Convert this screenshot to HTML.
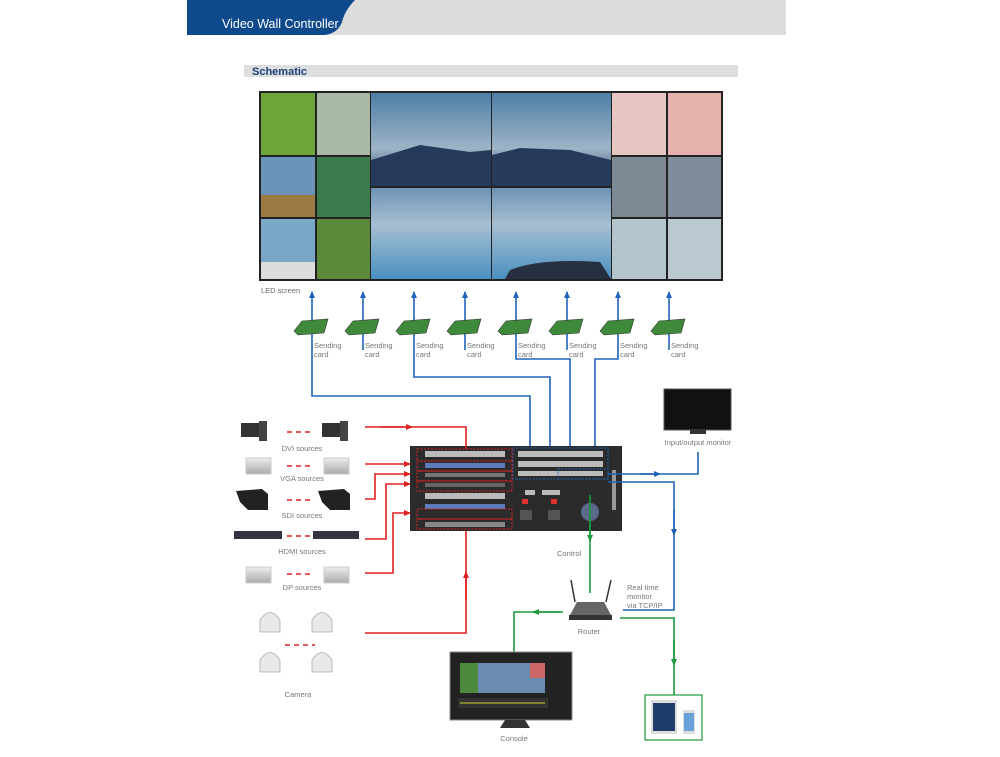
<!DOCTYPE html>
<html><head><meta charset="utf-8"><style>
body{margin:0;background:#fff;}
svg{display:block;font-family:"Liberation Sans",sans-serif;}
</style></head><body>
<svg width="1000" height="757" viewBox="0 0 1000 757" xmlns="http://www.w3.org/2000/svg">
<defs>
<marker id="ar" markerWidth="8" markerHeight="8" refX="6" refY="4" orient="auto" markerUnits="userSpaceOnUse"><path d="M0,1 L7,4 L0,7z" fill="#e02020"/></marker>
<marker id="ab" markerWidth="8" markerHeight="8" refX="6" refY="4" orient="auto" markerUnits="userSpaceOnUse"><path d="M0,1 L7,4 L0,7z" fill="#1f63b8"/></marker>
<marker id="ag" markerWidth="8" markerHeight="8" refX="6" refY="4" orient="auto" markerUnits="userSpaceOnUse"><path d="M0,1 L7,4 L0,7z" fill="#1a9a3a"/></marker>
<linearGradient id="sky" x1="0" y1="0" x2="0" y2="1"><stop offset="0" stop-color="#4f7fa8"/><stop offset=".6" stop-color="#9db4c6"/><stop offset="1" stop-color="#2b3e66"/></linearGradient>
<linearGradient id="lake" x1="0" y1="0" x2="0" y2="1"><stop offset="0" stop-color="#6f93b5"/><stop offset=".4" stop-color="#a7bfd2"/><stop offset="1" stop-color="#4a90c0"/></linearGradient>
<linearGradient id="gr" x1="0" y1="0" x2="0" y2="1"><stop offset="0" stop-color="#eee"/><stop offset="1" stop-color="#aaa"/></linearGradient>
</defs>
<!-- header -->
<rect x="187" y="0" width="599" height="35" fill="#dcdcdc"/>
<path d="M187,0 H355 Q345,10 342,22 Q338,33 325,35 H187z" fill="#0e4a8c"/>
<text x="222" y="28" font-size="12.5" fill="#fff">Video Wall Controller</text>
<rect x="244" y="65" width="494" height="12" fill="#dedede"/>
<text x="252" y="75" font-size="11" font-weight="bold" fill="#1a3f7a">Schematic</text>
<!-- wall -->
<rect x="259" y="91" width="464" height="190" fill="#222"/>
<rect x="261" y="93" width="54" height="62" fill="#6ca53a"/>
<rect x="317" y="93" width="53" height="62" fill="#a9b9a6"/>
<rect x="261" y="157" width="54" height="60" fill="#6c93b8"/>
<rect x="261" y="195" width="54" height="22" fill="#9b7a44"/>
<rect x="317" y="157" width="53" height="60" fill="#3b7a4a"/>
<rect x="261" y="219" width="54" height="60" fill="#79a9c6"/>
<rect x="261" y="262" width="54" height="17" fill="#ddd"/>
<rect x="317" y="219" width="53" height="60" fill="#5b8a3a"/>
<rect x="371" y="93" width="120" height="93" fill="url(#sky)"/>
<rect x="492" y="93" width="119" height="93" fill="url(#sky)"/>
<path d="M371,160 L420,145 L470,152 L491,150 V186 H371z" fill="#263a5c"/>
<path d="M492,155 L520,148 L570,150 L611,160 V186 H492z" fill="#263a5c"/>
<rect x="371" y="188" width="120" height="91" fill="url(#lake)"/>
<rect x="492" y="188" width="119" height="91" fill="url(#lake)"/>
<path d="M510,270 Q540,258 600,262 L611,279 H505z" fill="#263040"/>
<rect x="612" y="93" width="54" height="62" fill="#e6c6c0"/>
<rect x="668" y="93" width="53" height="62" fill="#e5b2ad"/>
<rect x="612" y="157" width="54" height="60" fill="#7d8a96"/>
<rect x="668" y="157" width="53" height="60" fill="#7f8d9a"/>
<rect x="612" y="219" width="54" height="60" fill="#b4c4cc"/>
<rect x="668" y="219" width="53" height="60" fill="#b9c9cf"/>
<text x="261" y="293" font-size="7.5" fill="#666">LED screen</text>
<!-- sending cards -->
<g fill="none" stroke="#1f63b8" stroke-width="1.6">
<path d="M312,330 V396 H530 V447"/>
<path d="M414,330 V377 H550 V447"/>
<path d="M516,330 V359 H570 V447"/>
<path d="M618,330 V359 H595 V447"/>
</g>
<g stroke="#1f63b8" stroke-width="1.6" marker-end="url(#ab)">
<line x1="312" y1="330" x2="312" y2="292"/><line x1="363" y1="350" x2="363" y2="292"/>
<line x1="414" y1="330" x2="414" y2="292"/><line x1="465" y1="350" x2="465" y2="292"/>
<line x1="516" y1="330" x2="516" y2="292"/><line x1="567" y1="350" x2="567" y2="292"/>
<line x1="618" y1="330" x2="618" y2="292"/><line x1="669" y1="350" x2="669" y2="292"/>
</g>
<g id="cards">
<g transform="translate(294,319)"><path d="M0,12 L8,2 L34,0 L30,14 L4,16z" fill="#3e8a3a" stroke="#333" stroke-width=".6"/></g>
<g transform="translate(345,319)"><path d="M0,12 L8,2 L34,0 L30,14 L4,16z" fill="#3e8a3a" stroke="#333" stroke-width=".6"/></g>
<g transform="translate(396,319)"><path d="M0,12 L8,2 L34,0 L30,14 L4,16z" fill="#3e8a3a" stroke="#333" stroke-width=".6"/></g>
<g transform="translate(447,319)"><path d="M0,12 L8,2 L34,0 L30,14 L4,16z" fill="#3e8a3a" stroke="#333" stroke-width=".6"/></g>
<g transform="translate(498,319)"><path d="M0,12 L8,2 L34,0 L30,14 L4,16z" fill="#3e8a3a" stroke="#333" stroke-width=".6"/></g>
<g transform="translate(549,319)"><path d="M0,12 L8,2 L34,0 L30,14 L4,16z" fill="#3e8a3a" stroke="#333" stroke-width=".6"/></g>
<g transform="translate(600,319)"><path d="M0,12 L8,2 L34,0 L30,14 L4,16z" fill="#3e8a3a" stroke="#333" stroke-width=".6"/></g>
<g transform="translate(651,319)"><path d="M0,12 L8,2 L34,0 L30,14 L4,16z" fill="#3e8a3a" stroke="#333" stroke-width=".6"/></g>
</g>
<g font-size="7.5" fill="#777">
<text x="314" y="348">Sending</text><text x="314" y="357">card</text>
<text x="365" y="348">Sending</text><text x="365" y="357">card</text>
<text x="416" y="348">Sending</text><text x="416" y="357">card</text>
<text x="467" y="348">Sending</text><text x="467" y="357">card</text>
<text x="518" y="348">Sending</text><text x="518" y="357">card</text>
<text x="569" y="348">Sending</text><text x="569" y="357">card</text>
<text x="620" y="348">Sending</text><text x="620" y="357">card</text>
<text x="671" y="348">Sending</text><text x="671" y="357">card</text>
</g>
<!-- controller -->
<rect x="410" y="446" width="212" height="85" fill="#2b2b2b"/>
<g fill="#bbb">
<rect x="425" y="451" width="80" height="6"/><rect x="425" y="463" width="80" height="5" fill="#5b7cb8"/>
<rect x="425" y="473" width="80" height="4" fill="#777"/><rect x="425" y="483" width="80" height="4" fill="#666"/>
<rect x="425" y="493" width="80" height="6"/><rect x="425" y="504" width="80" height="5" fill="#5b7cb8"/>
<rect x="425" y="522" width="80" height="5" fill="#888"/>
<rect x="518" y="451" width="85" height="6"/><rect x="518" y="461" width="85" height="6"/><rect x="518" y="471" width="85" height="5"/>
<rect x="542" y="490" width="18" height="5"/><rect x="525" y="490" width="10" height="5"/>
<rect x="520" y="510" width="12" height="10" fill="#555"/><rect x="548" y="510" width="12" height="10" fill="#555"/>
<rect x="522" y="499" width="6" height="5" fill="#d33"/><rect x="551" y="499" width="6" height="5" fill="#d33"/>
<circle cx="590" cy="512" r="9" fill="#5a6a8a"/>
<rect x="612" y="470" width="4" height="40" fill="#999"/>
</g>
<g fill="none" stroke="#e02020" stroke-width="1" stroke-dasharray="2,1.5">
<rect x="417" y="449" width="95" height="12"/><rect x="417" y="461" width="95" height="10"/><rect x="417" y="471" width="95" height="10"/><rect x="417" y="481" width="95" height="10"/>
<rect x="417" y="509" width="95" height="10"/><rect x="417" y="519" width="95" height="10"/>
</g>
<g fill="none" stroke="#1f63b8" stroke-width="1" stroke-dasharray="2,1.5">
<rect x="513" y="448" width="95" height="31"/><rect x="558" y="469" width="50" height="10"/>
</g>
<text x="557" y="556" font-size="7.5" fill="#777">Control</text>
<!-- red connectors -->
<g fill="none" stroke="#e02020" stroke-width="1.6">
<path d="M365,427 H466 V449"/>
<path d="M365,499 H375 V474 H410" marker-end="url(#ar)"/>
<path d="M365,539 H386 V484 H410" marker-end="url(#ar)"/>
<path d="M365,573 H393 V513 H410" marker-end="url(#ar)"/>
<path d="M365,633 H466 V531"/>
<path d="M365,464 H410" marker-end="url(#ar)"/>
</g>
<g stroke="#e02020" stroke-width="1.6"><line x1="380" y1="427" x2="412" y2="427" marker-end="url(#ar)"/><line x1="466" y1="600" x2="466" y2="572" marker-end="url(#ar)"/></g>
<!-- red dashes between sources -->
<g stroke="#e02020" stroke-width="1.6" stroke-dasharray="5,4">
<line x1="287" y1="432" x2="312" y2="432"/><line x1="287" y1="466" x2="312" y2="466"/><line x1="287" y1="500" x2="312" y2="500"/>
<line x1="287" y1="536" x2="312" y2="536"/><line x1="287" y1="574" x2="312" y2="574"/><line x1="285" y1="645" x2="315" y2="645"/>
</g>
<!-- sources -->
<g>
<rect x="241" y="423" width="18" height="14" fill="#333"/><rect x="259" y="421" width="8" height="20" fill="#444"/>
<rect x="322" y="423" width="18" height="14" fill="#333"/><rect x="340" y="421" width="8" height="20" fill="#444"/>
<rect x="246" y="458" width="25" height="16" fill="url(#gr)" stroke="#ccc"/><rect x="324" y="458" width="25" height="16" fill="url(#gr)" stroke="#ccc"/>
<path d="M236,491 L262,489 L268,494 V510 H248 L240,502z" fill="#222"/><path d="M318,491 L344,489 L350,494 V510 H330 L322,502z" fill="#222"/>
<rect x="234" y="531" width="48" height="8" fill="#334"/><rect x="313" y="531" width="46" height="8" fill="#334"/>
<rect x="246" y="567" width="25" height="16" fill="url(#gr)" stroke="#ccc"/><rect x="324" y="567" width="25" height="16" fill="url(#gr)" stroke="#ccc"/>
<g fill="#e8e8e8" stroke="#aaa" stroke-width=".8">
<path d="M260,620 Q270,605 280,620 V632 H260z"/><path d="M312,620 Q322,605 332,620 V632 H312z"/>
<path d="M260,660 Q270,645 280,660 V672 H260z"/><path d="M312,660 Q322,645 332,660 V672 H312z"/>
</g>
</g>
<g font-size="7.5" fill="#777" text-anchor="middle">
<text x="302" y="451">DVI sources</text><text x="302" y="481">VGA sources</text><text x="302" y="518">SDI sources</text>
<text x="302" y="554">HDMI sources</text><text x="302" y="590">DP sources</text><text x="298" y="697">Camera</text>
<text x="698" y="445">Input/output monitor</text><text x="589" y="634">Router</text><text x="514" y="741">Console</text>
</g>
<!-- monitor -->
<rect x="664" y="389" width="67" height="41" fill="#111" stroke="#555"/>
<rect x="690" y="430" width="16" height="4" fill="#333"/>
<!-- blue right -->
<g fill="none" stroke="#1f63b8" stroke-width="1.6">
<path d="M608,474 H698 V452"/>
<path d="M608,482 H674 V610 H623"/>
</g>
<g stroke="#1f63b8" stroke-width="1.6"><line x1="640" y1="474" x2="660" y2="474" marker-end="url(#ab)"/><line x1="674" y1="510" x2="674" y2="535" marker-end="url(#ab)"/></g>
<g font-size="7.5" fill="#777"><text x="627" y="590">Real time</text><text x="627" y="599">monitor</text><text x="627" y="608">via TCP/IP</text></g>
<!-- green -->
<g fill="none" stroke="#1a9a3a" stroke-width="1.6">
<path d="M590,495 V593"/>
<path d="M563,612 H514 V655"/>
<path d="M620,618 H674 V695"/>
</g>
<g stroke="#1a9a3a" stroke-width="1.6"><line x1="590" y1="520" x2="590" y2="541" marker-end="url(#ag)"/><line x1="560" y1="612" x2="533" y2="612" marker-end="url(#ag)"/><line x1="674" y1="640" x2="674" y2="665" marker-end="url(#ag)"/></g>
<!-- router -->
<line x1="571" y1="580" x2="575" y2="602" stroke="#333" stroke-width="1.5"/><line x1="611" y1="580" x2="606" y2="602" stroke="#333" stroke-width="1.5"/>
<path d="M570,615 L577,602 H604 L611,615z" fill="#666"/><rect x="569" y="615" width="43" height="5" fill="#333"/>
<!-- console -->
<rect x="450" y="652" width="122" height="68" fill="#222" stroke="#888"/>
<rect x="460" y="663" width="85" height="30" fill="#6a8cb0"/><rect x="460" y="663" width="18" height="30" fill="#4d8a3e"/><rect x="530" y="663" width="15" height="15" fill="#c66"/>
<rect x="458" y="698" width="90" height="10" fill="#333"/><line x1="460" y1="703" x2="545" y2="703" stroke="#cc3" stroke-width="1"/>
<path d="M505,720 H525 L530,728 H500z" fill="#333"/>
<!-- tablet -->
<rect x="645" y="695" width="57" height="45" fill="#fff" stroke="#1a9a3a" stroke-width="1.2"/>
<rect x="651" y="700" width="26" height="34" fill="#ddd"/><rect x="653" y="703" width="22" height="28" fill="#1c3d6a"/>
<rect x="683" y="710" width="12" height="24" fill="#ddd"/><rect x="684" y="713" width="10" height="18" fill="#6aa0d8"/>
</svg>
</body></html>
